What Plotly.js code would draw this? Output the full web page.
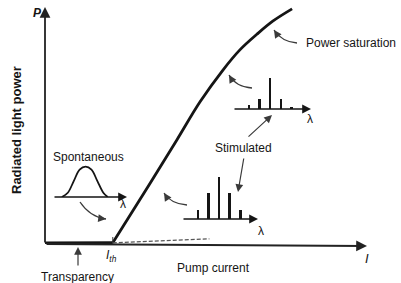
<!DOCTYPE html>
<html>
<head>
<meta charset="utf-8">
<script src="https://cdn.plot.ly/plotly-3.0.1.min.js"></script>
<style>
  html, body { margin: 0; padding: 0; background: #ffffff; }
  #chart { width: 401px; height: 283px; }
</style>
</head>
<body>
<div id="chart"></div>
<script>
// ---------------- data ----------------
// Light-current (P-I) characteristic of a laser diode (schematic units: mA, mW)
const current = [0, 10, 20, 30, 38.9, 45.7, 52.5, 57.5, 62.6, 67.3, 72.9];
const power   = [0.04, 0.04, 0.05, 2.33, 4.39, 5.99, 7.34, 8.19, 8.86, 9.41, 9.92];
const thresholdCurrent = 20;
// spontaneous emission continuing above threshold (dashed)
const spontCurrent = [20, 48.5];
const spontPower   = [0.05, 0.22];

// Spontaneous emission spectrum (broad)
const spontWavelength = [836, 840, 844, 848, 852, 856, 860, 864, 867];
const spontIntensity  = [0, 0.14, 0.52, 0.9, 1.0, 0.9, 0.52, 0.14, 0];

// Stimulated emission: longitudinal modes
const modeWavelength      = [846, 849, 852, 855, 858];
const modesNearThreshold  = [0.21, 0.62, 1.0, 0.62, 0.21];
const modesHighPower      = [0.10, 0.24, 0.74, 0.24, 0.05];

// ---------------- helpers (figure pixel -> paper fraction) ----------------
const W = 401, H = 283;
const X = px => px / W;
const Y = py => 1 - py / H;

const FONT = 'Liberation Sans, Arial, Helvetica, sans-serif';
const INK = '#151515';
const GREY = '#3a3a3a';

const flatN = current.indexOf(thresholdCurrent) + 1;

const traces = [
  { x: current.slice(0, flatN), y: power.slice(0, flatN), xaxis: 'x', yaxis: 'y',
    mode: 'lines', line: { color: INK, width: 3 }, hoverinfo: 'skip' },
  { x: current.slice(flatN - 1), y: power.slice(flatN - 1), xaxis: 'x', yaxis: 'y',
    mode: 'lines', line: { color: INK, width: 2.8, shape: 'spline', smoothing: 1 }, hoverinfo: 'skip' },
  { x: spontCurrent, y: spontPower, xaxis: 'x', yaxis: 'y',
    mode: 'lines', line: { color: '#555', width: 1.3, dash: '4px,2px' }, hoverinfo: 'skip' },
  { x: spontWavelength, y: spontIntensity, xaxis: 'x2', yaxis: 'y2',
    mode: 'lines', line: { color: INK, width: 1.8, shape: 'spline', smoothing: 1 }, hoverinfo: 'skip' },
  { type: 'bar', x: modeWavelength, y: modesNearThreshold, xaxis: 'x3', yaxis: 'y3',
    width: 0.7, marker: { color: INK, line: { width: 0 } }, hoverinfo: 'skip' },
  { type: 'bar', x: modeWavelength, y: modesHighPower, xaxis: 'x4', yaxis: 'y4',
    width: 0.7, marker: { color: INK, line: { width: 0 } }, hoverinfo: 'skip' }
];

const hidden = { visible: false, fixedrange: true };

// arrow helper: head at pixel (hx,hy), tail offset in pixels
function arrow(hx, hy, ax, ay, opts) {
  return Object.assign({
    xref: 'paper', yref: 'paper', x: X(hx), y: Y(hy), ax: ax, ay: ay,
    text: '', showarrow: true, arrowhead: 2, arrowsize: 1.3, arrowwidth: 1.2,
    arrowcolor: GREY, standoff: 0, startstandoff: 0
  }, opts || {});
}
function label(text, px, py, size, opts) {
  return Object.assign({
    xref: 'paper', yref: 'paper', x: X(px), y: Y(py), text: text, showarrow: false,
    xanchor: 'center', yanchor: 'middle',
    font: { family: FONT, size: size, color: INK }
  }, opts || {});
}
// curved pointer: quadratic path from (x0,y0) via (cx,cy) to (x1,y1), all pixel
function curve(x0, y0, cx, cy, x1, y1) {
  return {
    type: 'path', xref: 'paper', yref: 'paper',
    path: `M${X(x0)},${Y(y0)} Q${X(cx)},${Y(cy)} ${X(x1)},${Y(y1)}`,
    line: { color: GREY, width: 1.3 }
  };
}
function curveHead(cx, cy, x1, y1) {
  const dx = x1 - cx, dy = y1 - cy, L = Math.hypot(dx, dy);
  return arrow(x1, y1, -dx / L * 7, -dy / L * 7, { arrowsize: 1.2, arrowwidth: 1.3 });
}

const annotations = [
  // axes
  { xref: 'paper', yref: 'paper', x: X(367), y: Y(246), ax: -322, ay: -2, text: '', showarrow: true,
    arrowhead: 2, arrowsize: 1.2, arrowwidth: 1.8, arrowcolor: '#222', standoff: 0 },
  { xref: 'paper', yref: 'paper', x: X(45), y: Y(7), ax: 0, ay: 237, text: '', showarrow: true,
    arrowhead: 2, arrowsize: 1.2, arrowwidth: 1.8, arrowcolor: '#222', standoff: 0 },
  // spectrum baselines (λ axes)
  { xref: 'x2', yref: 'y2', x: 880, y: 0, axref: 'x2', ayref: 'y2', ax: 830, ay: 0, text: '',
    showarrow: true, arrowhead: 2, arrowsize: 1.1, arrowwidth: 1.6, arrowcolor: INK, standoff: 0 },
  { xref: 'x3', yref: 'y3', x: 863, y: 0, axref: 'x3', ayref: 'y3', ax: 841.5, ay: 0, text: '',
    showarrow: true, arrowhead: 2, arrowsize: 1.1, arrowwidth: 1.6, arrowcolor: INK, standoff: 0 },
  { xref: 'x4', yref: 'y4', x: 863.5, y: 0, axref: 'x4', ayref: 'y4', ax: 841.5, ay: 0, text: '',
    showarrow: true, arrowhead: 2, arrowsize: 1.1, arrowwidth: 1.6, arrowcolor: INK, standoff: 0 },
  // straight pointers
  arrow(272, 115, -25, 23),
  arrow(238, 192, 6, -35),
  arrow(78, 247, 0, 20),
  // curved pointer heads
  curveHead(282, 42, 274, 30),
  curveHead(236, 87, 229, 75),
  curveHead(171, 204, 164, 193),
  curveHead(90, 217, 106, 219),
  // labels
  label('<b><i>P</i></b>', 37, 13, 12),
  label('<b>Radiated light power</b>', 17, 130, 13, { textangle: -90 }),
  label('Power saturation', 351, 43, 12),
  label('Stimulated', 244, 148, 12),
  label('Spontaneous', 88, 157, 12),
  label('Pump current', 213, 268, 12),
  label('Transparency', 77, 277, 12),
  label('<i>I</i><sub><i>th</i></sub>', 112, 256, 12),
  label('<i>I</i>', 367, 258, 13),
  label('λ', 123, 204, 12),
  label('λ', 261, 231, 12),
  label('λ', 310, 119, 12)
];

const shapes = [
  curve(297, 43, 282, 42, 274, 30),
  curve(252, 88, 236, 87, 229, 75),
  curve(187, 205, 171, 204, 164, 193),
  curve(80, 202, 90, 217, 106, 219),
  // threshold tick
  { type: 'line', xref: 'x', yref: 'paper', x0: thresholdCurrent, x1: thresholdCurrent,
    y0: Y(243), y1: Y(237), line: { color: GREY, width: 1 } }
];

const layout = {
  width: W, height: H,
  margin: { l: 0, r: 0, t: 0, b: 0, pad: 0 },
  paper_bgcolor: '#ffffff', plot_bgcolor: 'rgba(0,0,0,0)',
  showlegend: false,
  bargap: 0,
  xaxis:  Object.assign({ range: [0, 95], domain: [X(45), X(367)], anchor: 'y' }, hidden),
  yaxis:  Object.assign({ range: [0, 10], domain: [Y(244), Y(7)], anchor: 'x' }, hidden),
  xaxis2: Object.assign({ range: [830, 880], domain: [X(53), X(127)], anchor: 'y2' }, hidden),
  yaxis2: Object.assign({ range: [0, 1.15], domain: [Y(197), Y(162)], anchor: 'x2' }, hidden),
  xaxis3: Object.assign({ range: [841.5, 863], domain: [X(182), X(258)], anchor: 'y3' }, hidden),
  yaxis3: Object.assign({ range: [0, 1.1], domain: [Y(219), Y(172.8)], anchor: 'x3' }, hidden),
  xaxis4: Object.assign({ range: [841.5, 863.5], domain: [X(233), X(311)], anchor: 'y4' }, hidden),
  yaxis4: Object.assign({ range: [0, 1.1], domain: [Y(109), Y(62.8)], anchor: 'x4' }, hidden),
  annotations: annotations,
  shapes: shapes
};

Plotly.newPlot('chart', traces, layout, { displayModeBar: false, staticPlot: true });
</script>
</body>
</html>
